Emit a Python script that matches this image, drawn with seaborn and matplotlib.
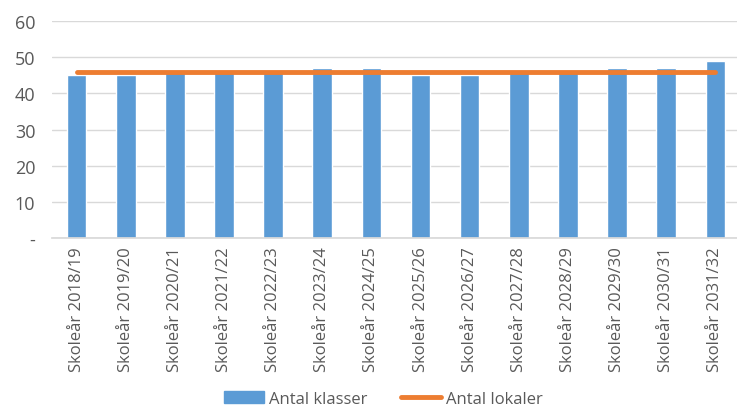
import matplotlib.pyplot as plt
import numpy as np
import pandas as pd
import seaborn as sns
from matplotlib.lines import Line2D
from matplotlib.patches import Patch

years = ["2018/19", "2019/20", "2020/21", "2021/22", "2022/23", "2023/24", "2024/25",
         "2025/26", "2026/27", "2027/28", "2028/29", "2029/30", "2030/31", "2031/32"]
antal_klasser = [45, 45, 46, 46, 46, 47, 47, 45, 45, 46, 46, 47, 47, 49]
antal_lokaler = [46, 46, 46, 46, 46, 46, 46, 46, 46, 46, 46, 46, 46, 46]

BLUE = "#5B9BD5"
ORANGE = "#ED7D31"
GREY = "#595959"


def main(output="out.png"):
    labels = [f"Skoleår {y}" for y in years]
    df = pd.DataFrame({"label": labels, "klasser": antal_klasser,
                       "lokaler": antal_lokaler, "pos": np.arange(len(labels))})

    sns.set_theme(style="white")
    plt.rcParams["font.family"] = ["Open Sans", "DejaVu Sans"]

    fig = plt.figure(figsize=(7.37, 4.10), dpi=100)
    ax = fig.add_axes([0.0706, 0.417, 0.93, 0.529])

    sns.barplot(data=df, x="label", y="klasser", color=BLUE, saturation=1,
                width=0.4, ax=ax, zorder=2)
    sns.lineplot(data=df, x="pos", y="lokaler", color=ORANGE, linewidth=3.5,
                 ax=ax, zorder=3)

    ax.set_ylim(0, 60)
    ax.set_xlim(-0.5, 13.45)
    ax.set_yticks(range(0, 61, 10))
    ax.set_yticklabels(["-"] + [str(v) for v in range(10, 61, 10)])
    ax.yaxis.grid(True, color="#d9d9d9", linewidth=1)
    ax.set_axisbelow(True)
    for s in ["top", "right", "left"]:
        ax.spines[s].set_visible(False)
    ax.spines["bottom"].set_color("#d9d9d9")
    ax.set_xticks(range(len(labels)))
    ax.set_xticklabels(labels, rotation=90)
    ax.tick_params(axis="both", colors=GREY, length=0)
    ax.tick_params(axis="x", pad=6, labelsize=12)
    ax.tick_params(axis="y", pad=12, labelsize=13)
    ax.set_xlabel("")
    ax.set_ylabel("")

    handles = [Patch(color=BLUE, label="Antal klasser"),
               Line2D([0], [0], color=ORANGE, linewidth=3.5, label="Antal lokaler")]
    fig.legend(handles=handles, loc="center", bbox_to_anchor=(0.52, 0.025),
               ncol=2, frameon=False, fontsize=12, labelcolor=GREY,
               handlelength=2.4, handletextpad=0.3, columnspacing=2.0)

    fig.savefig(output, dpi=100)


if __name__ == "__main__":
    main()
